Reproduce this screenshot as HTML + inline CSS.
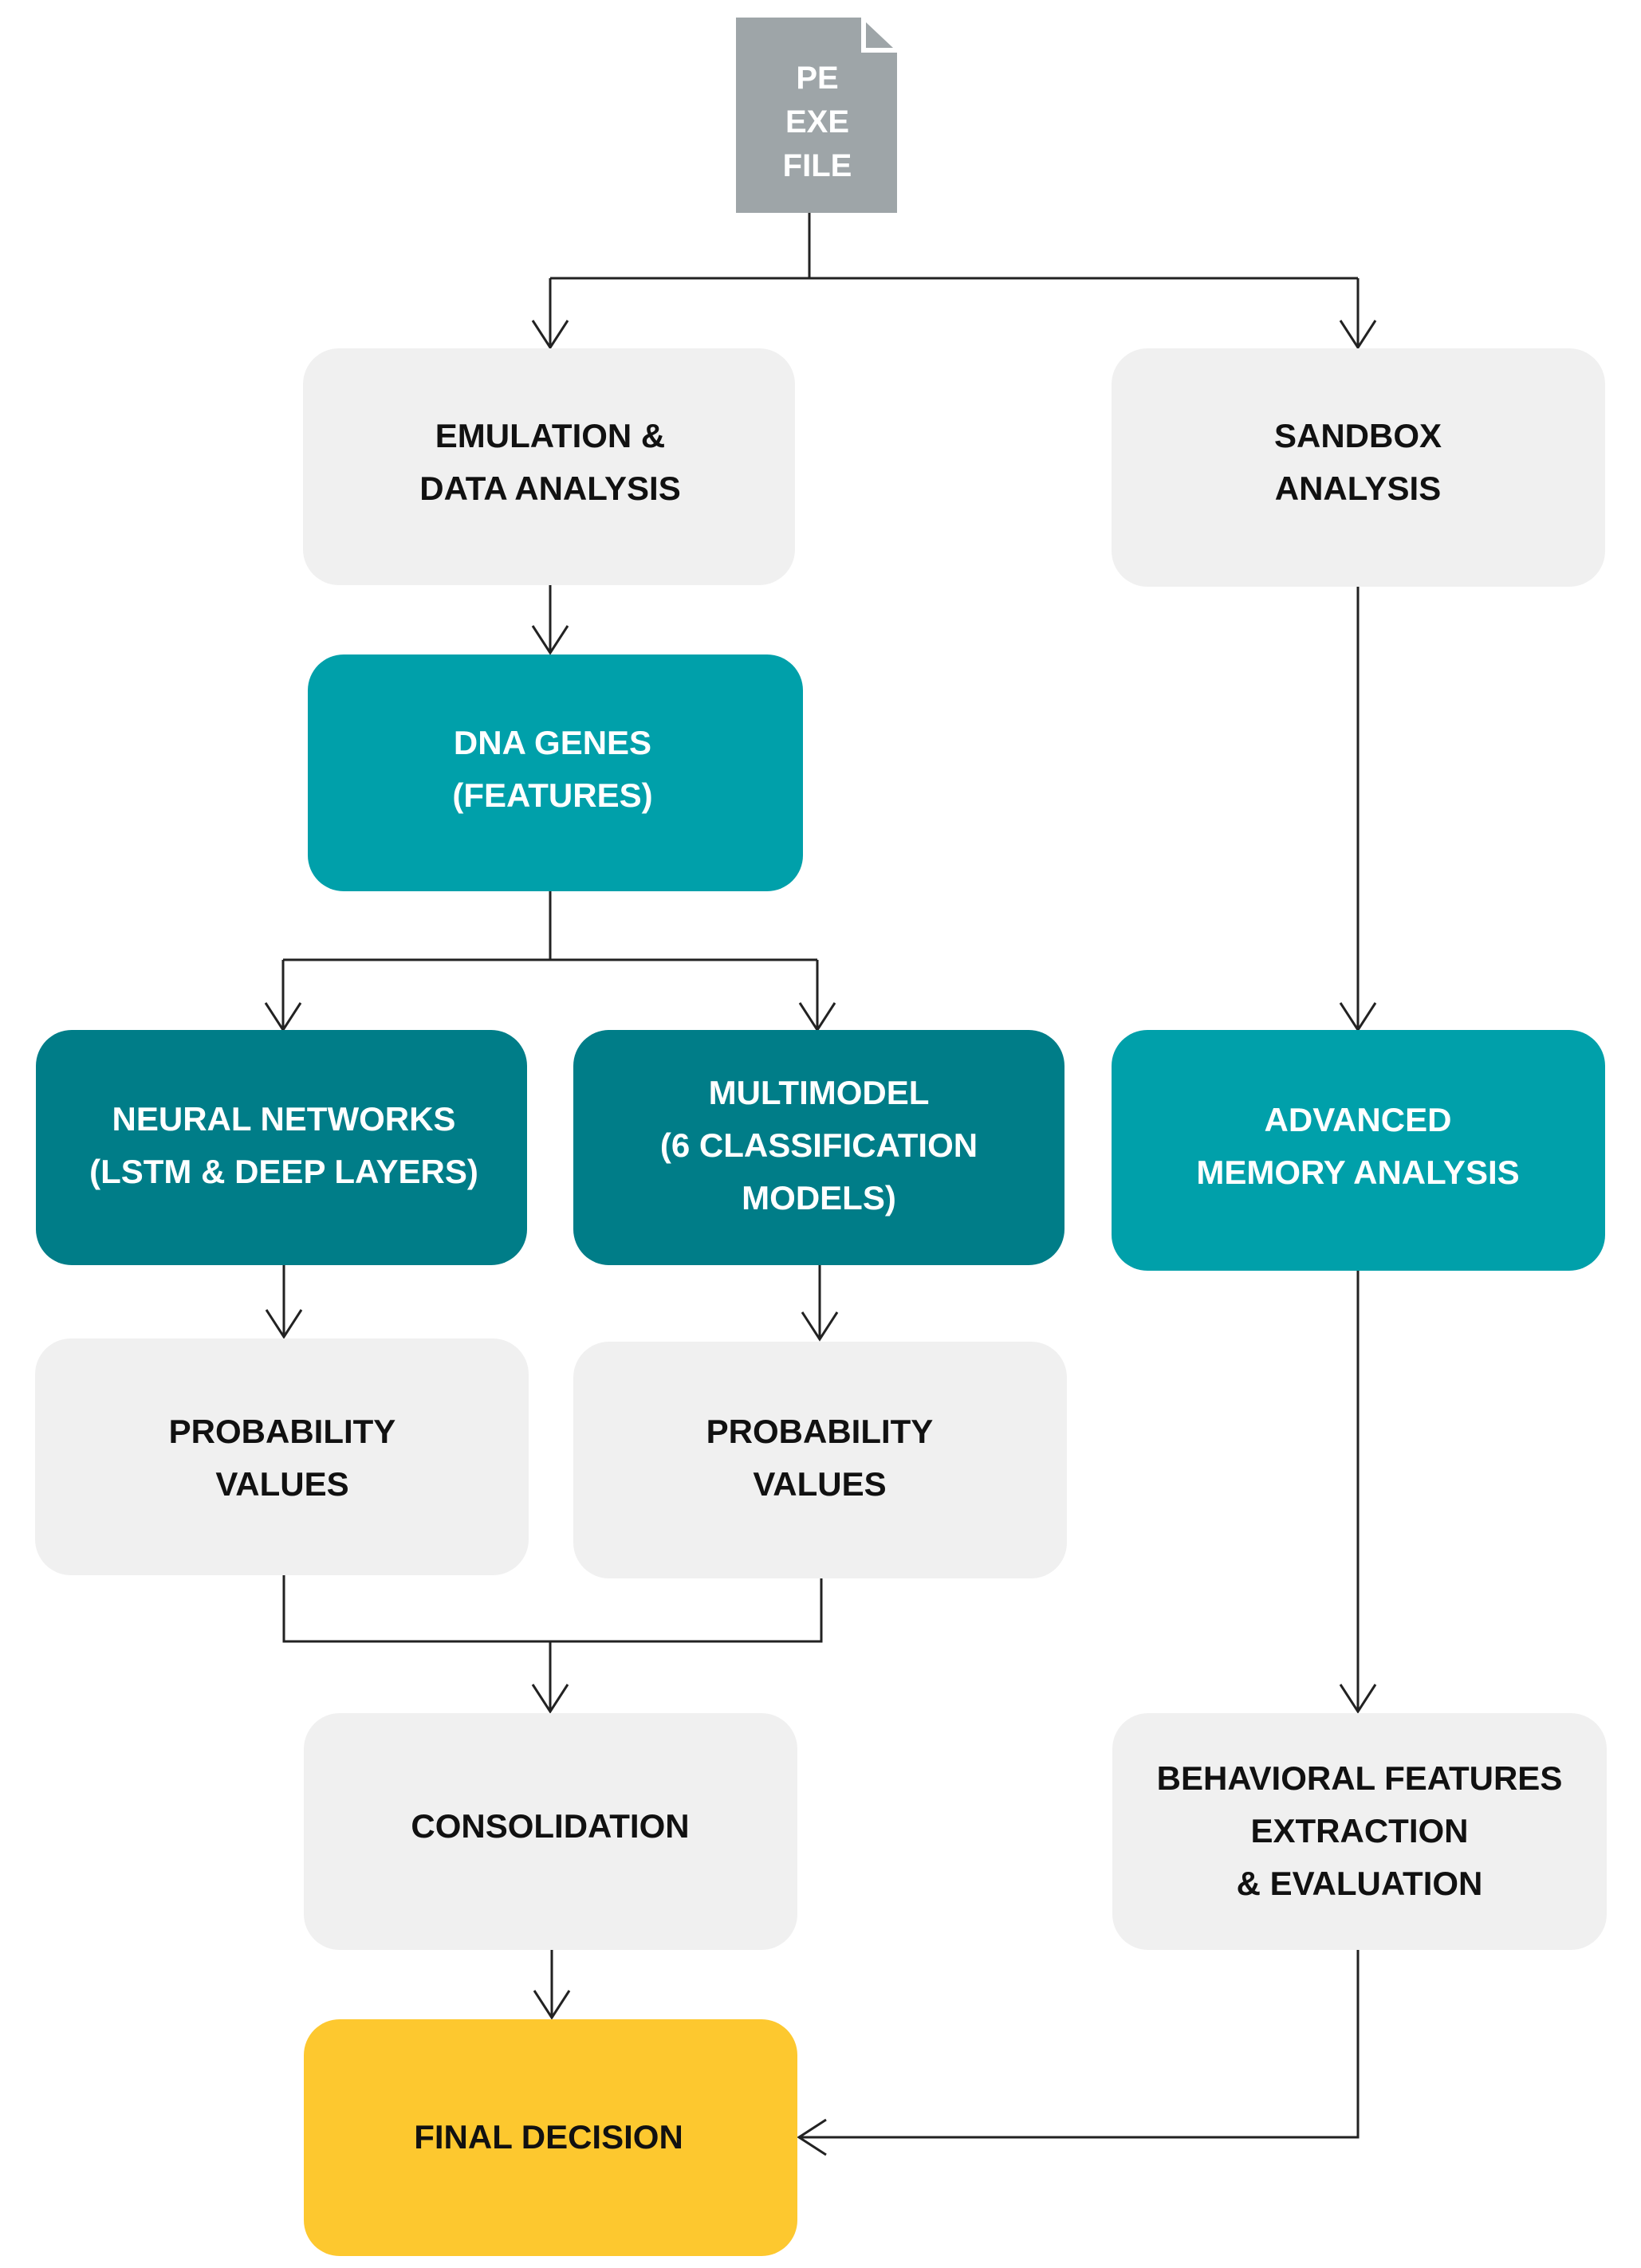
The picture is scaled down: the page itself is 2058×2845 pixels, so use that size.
<!DOCTYPE html>
<html><head><meta charset="utf-8"><style>
html,body{margin:0;padding:0;background:#fff}
svg{display:block}
text{font-family:"Liberation Sans",sans-serif;font-weight:bold;text-anchor:middle}
.d{fill:#111;font-size:42px}
.w{fill:#fff;font-size:42px}
</style></head><body>
<svg width="2058" height="2845" viewBox="0 0 2058 2845" xmlns="http://www.w3.org/2000/svg">
<!-- file -->
<path d="M923 22 H1080 V66 H1125 V267 H923 Z" fill="#9ea5a8"/>
<path d="M1086 28 L1120 60 H1086 Z" fill="#9ea5a8"/>
<text x="1025" y="111" fill="#fff" style="font-size:40px">PE</text>
<text x="1025" y="166" fill="#fff" style="font-size:40px">EXE</text>
<text x="1025" y="221" fill="#fff" style="font-size:40px">FILE</text>

<g stroke="#222" stroke-width="3" fill="none">
<path d="M1015 267 V349 M690 349 H1703 M690 349 V436 M1703 349 V436"/>
<path d="M668 402 L690 436 L712 402 M1681 402 L1703 436 L1725 402"/>
<path d="M690 734 V819 M668 785 L690 819 L712 785"/>
<path d="M1703 736 V1292 M1681 1258 L1703 1292 L1725 1258"/>
<path d="M690 1118 V1204 M355 1204 H1025 M355 1204 V1292 M1025 1204 V1292"/>
<path d="M333 1258 L355 1292 L377 1258 M1003 1258 L1025 1292 L1047 1258"/>
<path d="M356 1587 V1677 M334 1643 L356 1677 L378 1643"/>
<path d="M1028 1587 V1680 M1006 1646 L1028 1680 L1050 1646"/>
<path d="M356 1976 V2059 H1030 V1980 M690 2059 V2147 M668 2113 L690 2147 L712 2113"/>
<path d="M1703 1594 V2147 M1681 2113 L1703 2147 L1725 2113"/>
<path d="M692 2446 V2531 M670 2497 L692 2531 L714 2497"/>
<path d="M1703 2446 V2681 H1002 M1036 2659 L1002 2681 L1036 2703"/>
</g>

<rect x="380" y="437" width="617" height="297" rx="45" fill="#f0f0f0"/>
<text class="d" x="690" y="561">EMULATION &amp;</text>
<text class="d" x="690" y="627">DATA ANALYSIS</text>

<rect x="1394" y="437" width="619" height="299" rx="45" fill="#f0f0f0"/>
<text class="d" x="1703" y="561">SANDBOX</text>
<text class="d" x="1703" y="627">ANALYSIS</text>

<rect x="386" y="821" width="621" height="297" rx="45" fill="#00a0aa"/>
<text class="w" x="693" y="946">DNA GENES</text>
<text class="w" x="693" y="1012">(FEATURES)</text>

<rect x="45" y="1292" width="616" height="295" rx="45" fill="#007d88"/>
<text class="w" x="356" y="1418">NEURAL NETWORKS</text>
<text class="w" x="356" y="1484">(LSTM &amp; DEEP LAYERS)</text>

<rect x="719" y="1292" width="616" height="295" rx="45" fill="#007d88"/>
<text class="w" x="1027" y="1385">MULTIMODEL</text>
<text class="w" x="1027" y="1451">(6 CLASSIFICATION</text>
<text class="w" x="1027" y="1517">MODELS)</text>

<rect x="1394" y="1292" width="619" height="302" rx="45" fill="#00a0aa"/>
<text class="w" x="1703" y="1419">ADVANCED</text>
<text class="w" x="1703" y="1485">MEMORY ANALYSIS</text>

<rect x="44" y="1679" width="619" height="297" rx="45" fill="#f0f0f0"/>
<text class="d" x="354" y="1810">PROBABILITY</text>
<text class="d" x="354" y="1876">VALUES</text>

<rect x="719" y="1683" width="619" height="297" rx="45" fill="#f0f0f0"/>
<text class="d" x="1028" y="1810">PROBABILITY</text>
<text class="d" x="1028" y="1876">VALUES</text>

<rect x="381" y="2149" width="619" height="297" rx="45" fill="#f0f0f0"/>
<text class="d" x="690" y="2305">CONSOLIDATION</text>

<rect x="1395" y="2149" width="620" height="297" rx="45" fill="#f0f0f0"/>
<text class="d" x="1705" y="2245">BEHAVIORAL FEATURES</text>
<text class="d" x="1705" y="2311">EXTRACTION</text>
<text class="d" x="1705" y="2377">&amp; EVALUATION</text>

<rect x="381" y="2533" width="619" height="297" rx="45" fill="#fdc82f"/>
<text class="d" x="688" y="2695">FINAL DECISION</text>
</svg>
</body></html>
